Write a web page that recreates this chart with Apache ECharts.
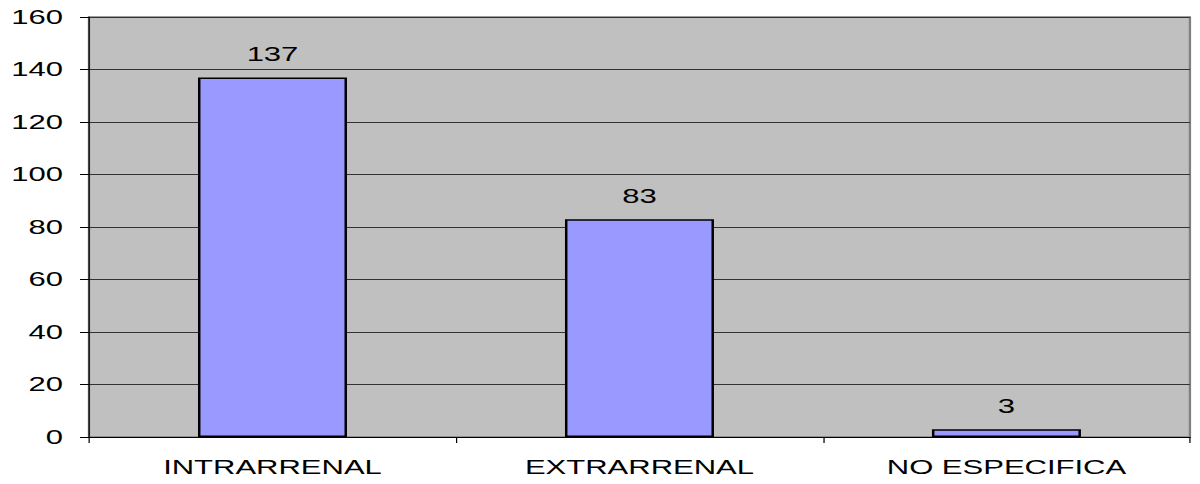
<!DOCTYPE html>
<html><head><meta charset="utf-8">
<script src="https://cdn.jsdelivr.net/npm/echarts@6/dist/echarts.min.js"></script>
<style>
html,body{margin:0;padding:0;background:#fff;overflow:hidden}
#wrap{width:1200px;height:484px;overflow:hidden}
#c{width:774px;height:484px;transform:scaleX(1.5504);transform-origin:0 0}
</style>
</head><body><div id="wrap"><div id="c"></div></div>
<script>
const categories = ['INTRARRENAL', 'EXTRARRENAL', 'NO ESPECIFICA'];
const values = [137, 83, 3];
const yTicks = [0, 20, 40, 60, 80, 100, 120, 140, 160];

const chart = echarts.init(document.getElementById('c'), null, {renderer: 'svg'});
chart.setOption({
  animation: false,
  backgroundColor: '#ffffff',
  grid: {left: 57.4, right: 6.5, top: 17, bottom: 47, show: true, backgroundColor: '#c0c0c0', borderColor: '#808080', borderWidth: 1.5},
  xAxis: {
    type: 'category', data: categories, boundaryGap: true,
    axisLine: {show: true, lineStyle: {color: '#000', width: 1}},
    axisTick: {show: true, length: 6, alignWithLabel: false, lineStyle: {color: '#000', width: 0.8}},
    axisLabel: {color: '#000', fontFamily: 'Liberation Sans', fontSize: 20, margin: 20}
  },
  yAxis: {
    type: 'value', min: yTicks[0], max: yTicks[yTicks.length - 1], interval: 20,
    axisLine: {show: true, lineStyle: {color: '#000', width: 0.8}},
    axisTick: {show: true, length: 5.8, lineStyle: {color: '#000'}},
    axisLabel: {color: '#000', fontFamily: 'Liberation Sans', fontSize: 20, margin: 16.8},
    splitLine: {show: true, lineStyle: {color: '#333', width: 1}}
  },
  series: [{
    type: 'bar', data: values, barWidth: '40.6%',
    itemStyle: {color: '#9999ff', borderColor: '#000', borderWidth: 1.6},
    label: {show: true, position: 'top', distance: 13, color: '#000', fontFamily: 'Liberation Sans', fontSize: 20}
  }]
});
</script></body></html>
